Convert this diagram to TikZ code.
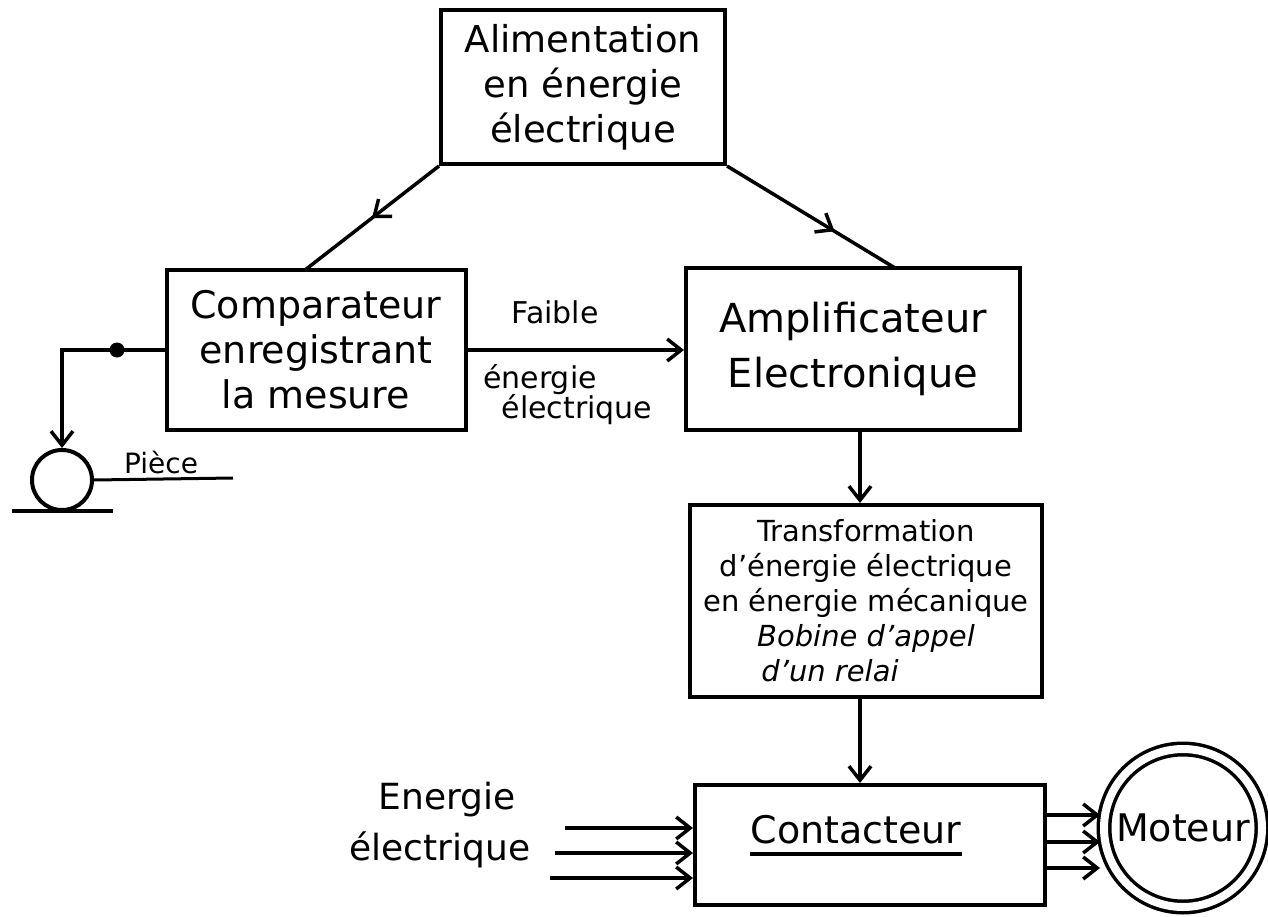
\documentclass[tikz,border=0pt]{standalone}
\usepackage{fontspec}
\setmainfont{DejaVu Sans}
\usetikzlibrary{arrows.meta,decorations.markings}
\begin{document}
\begin{tikzpicture}[x=1pt,y=-1pt,
  box/.style={draw, line width=4pt, rectangle, align=center, inner sep=0pt},
  wire/.style={line width=3.5pt},
  tip/.style={-{Straight Barb[length=14pt,width=22pt]}},
  midarrow/.style={postaction={decorate}, decoration={markings, mark=at position #1 with {\arrow{Straight Barb[length=14pt,width=22pt]}}}},
  mid/.style={font=\fontsize{30}{40}\selectfont},
  lbl/.style={inner sep=0pt}
]
\useasboundingbox (0,0) rectangle (1268,917);
% boxes
\node[box, font=\fontsize{37}{45}\selectfont, minimum width=284pt, minimum height=154pt] (alim) at (583,87) {Alimentation\\en énergie\\électrique};
\node[box, font=\fontsize{38}{45}\selectfont, minimum width=299pt, minimum height=160pt] (comp) at (316,350) {Comparateur\\enregistrant\\la mesure};
\node[box, font=\fontsize{40}{55}\selectfont, minimum width=334pt, minimum height=162pt] (ampli) at (853,349) {Amplificateur\\Electronique};
\node[box, font=\fontsize{29}{35}\selectfont, minimum width=352pt, minimum height=192pt] (trans) at (866,601) {Transformation\\d’énergie électrique\\en énergie mécanique\\{\itshape Bobine d’appel\hspace*{60pt}}\\{\itshape d’un relai\hspace*{72pt}}};
\node[box, minimum width=350pt, minimum height=120pt] (cont) at (870,845) {};
\node[lbl, font=\fontsize{38}{45}\selectfont] (ctext) at (856,830) {Contacteur};
\draw[line width=4pt] ([yshift=-9pt]ctext.south west) -- ([yshift=-9pt]ctext.south east);
\node[circle, draw, line width=3.5pt, double=white, double distance=8pt, minimum size=158pt, inner sep=0pt, font=\fontsize{38}{45}\selectfont] (mot) at (1183,828) {Moteur};
% supply arrows
\coordinate (cin) at (305,270);
\coordinate (ain) at (895,268);
\draw[wire, midarrow=0.5] (alim.south west) -- (cin);
\draw[wire, midarrow=0.64] (alim.south east) -- (ain);
% comparator to amplifier
\draw[wire, tip] (comp.east) -- (comp.east -| ampli.west);
\node[lbl, mid] (faible) at (555,312) {Faible};
\node[lbl, mid] (ener) at (540,380) {énergie};
\node[lbl, mid] (elec) at (577,410) {électrique};
% piece
\node[circle, draw, line width=4pt, minimum size=60pt, inner sep=0pt] (piece) at (62,480) {};
\coordinate (corner) at (62,350);
\node[circle, fill, minimum size=15pt, inner sep=0pt] (dot) at (117,350) {};
\draw[wire, tip] (comp.west) -- (corner) -- (piece.north);
\coordinate (g1) at (12,511);
\coordinate (g2) at (113,511);
\draw[line width=4pt] (g1) -- (g2);
\coordinate (pend) at (233,478);
\draw[line width=3pt] (piece.east) -- (pend);
\node[lbl, font=\fontsize{28}{34}\selectfont] (pl) at (161,462) {Pièce};
% vertical arrows
\draw[wire, tip] (ampli.south -| 860,0) -- (trans.north -| 860,0);
\draw[wire, tip] (trans.south -| 860,0) -- (cont.north -| 860,0);
% inputs
\node[lbl, font=\fontsize{36}{44}\selectfont] (ein1) at (447,800) {Energie};
\node[lbl, font=\fontsize{36}{44}\selectfont] (ein2) at (440,850) {électrique};
\coordinate (i1) at (565,828);
\coordinate (i2) at (555,853);
\coordinate (i3) at (550,878);
\draw[wire, tip] (i1) -- (i1 -| cont.west);
\draw[wire, tip] (i2) -- (i2 -| cont.west);
\draw[wire, tip] (i3) -- (i3 -| cont.west);
% outputs
\foreach \yy/\nm in {815/o1, 842/o2, 868/o3}{
  \coordinate (\nm) at (1045,\yy);
  \draw[wire, tip] (\nm) -- (1100,\yy);
}
\end{tikzpicture}
\end{document}
